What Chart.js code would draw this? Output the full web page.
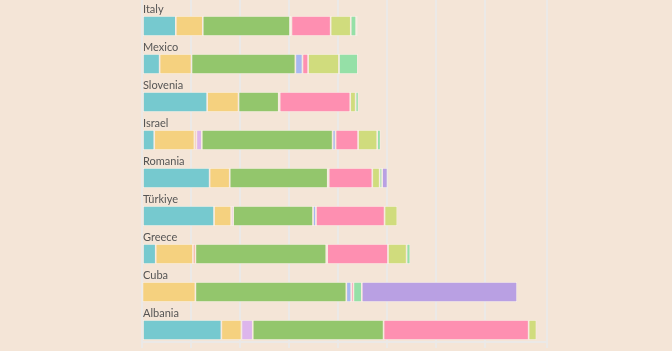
<!DOCTYPE html>
<html>
<head>
<meta charset="utf-8">
<script src="https://cdn.jsdelivr.net/npm/chart.js@4"></script>
<style>
  html, body { margin: 0; padding: 0; background: #f4e5d7; }
  #wrap { width: 672px; height: 351px; position: relative; }
</style>
</head>
<body>
<div id="wrap"><canvas id="chart"></canvas></div>
<script>
// ── data ────────────────────────────────────────────────────────────────────
const countries = ["Italy", "Mexico", "Slovenia", "Israel", "Romania", "Türkiye", "Greece", "Cuba", "Albania"];

const teal        = [6.9, 3.6, 13.3, 2.5, 13.8, 14.7, 2.8, 0.1, 16.2];
const yellow      = [5.5, 6.5, 6.4, 8.2, 4.1, 3.5, 7.6, 10.8, 4.1];
const salmon      = [0, 0, 0, 0.4, 0, 0, 0.5, 0, 0];
const lavender    = [0, 0, 0, 1.1, 0, 0.4, 0, 0, 2.3];
const green       = [17.8, 21.2, 8.2, 26.7, 20.0, 16.3, 26.7, 30.8, 26.7];
const blue        = [0.3, 1.45, 0.2, 0.6, 0.2, 0.6, 0.2, 1.0, 0];
const pink        = [8.0, 1.15, 14.4, 4.6, 8.9, 14.0, 12.4, 0.45, 29.6];
const yellowGreen = [4.1, 6.3, 1.1, 3.9, 1.5, 2.6, 3.8, 0, 1.6];
const mint        = [1.1, 3.85, 0.6, 0.7, 0.5, 0, 0.75, 1.7, 0];
const purple      = [0.3, 0, 0, 0, 1.1, 0, 0, 31.7, 0];

const xMax = 82.65;
const xStep = 10;

// ── series styling ──────────────────────────────────────────────────────────
const series = [
  { data: teal, color: "#76c9cf" },
  { data: yellow, color: "#f5d17f" },
  { data: salmon, color: "#f7a593" },
  { data: lavender, color: "#ddb5ec" },
  { data: green, color: "#93c66c" },
  { data: blue, color: "#a7b8f1" },
  { data: pink, color: "#fe8fb1" },
  { data: yellowGreen, color: "#d0dc7d" },
  { data: mint, color: "#95e0a7" },
  { data: purple, color: "#b9a0e3" },
];

// empty "label" stack takes the top part of each row so the bar sits below its name
const datasets = [{ data: countries.map(() => 0), stack: "label", borderWidth: 0, backgroundColor: "rgba(0,0,0,0)" }]
  .concat(series.map((s) => ({
    data: s.data,
    stack: "bar",
    backgroundColor: s.color,
    borderColor: "rgba(250,241,233,0.9)",
    borderWidth: 0.8,
    borderSkipped: false,
  })));

const rowLabels = {
  id: "rowLabels",
  afterDatasetsDraw(chart) {
    const { ctx, chartArea } = chart;
    const meta = chart.getDatasetMeta(1);
    ctx.save();
    ctx.font = "11px Lato";
    ctx.fillStyle = "#555555";
    ctx.textAlign = "left";
    ctx.textBaseline = "alphabetic";
    countries.forEach((c, i) => {
      const bar = meta.data[i];
      ctx.fillText(c, chartArea.left + 1, bar.y - bar.height / 2 - 3);
    });
    ctx.restore();
  },
};

new Chart(document.getElementById("chart"), {
  type: "bar",
  data: { labels: countries, datasets },
  options: {
    indexAxis: "y",
    responsive: true,
    maintainAspectRatio: false,
    animation: false,
    categoryPercentage: 0.737,
    barPercentage: 1.43,
    layout: { padding: { left: 142, right: 125, top: 0, bottom: 3 } },
    scales: {
      x: {
        stacked: true, min: 0, max: xMax,
        ticks: { display: false, stepSize: xStep },
        grid: { color: "#ebe9e7", lineWidth: 2, tickLength: 6, drawTicks: true },
        border: { display: true, color: "#ebe9e7", width: 2 },
      },
      y: { stacked: true, display: false },
    },
    plugins: { legend: { display: false }, tooltip: { enabled: false } },
  },
  plugins: [rowLabels],
});
</script>
</body>
</html>
